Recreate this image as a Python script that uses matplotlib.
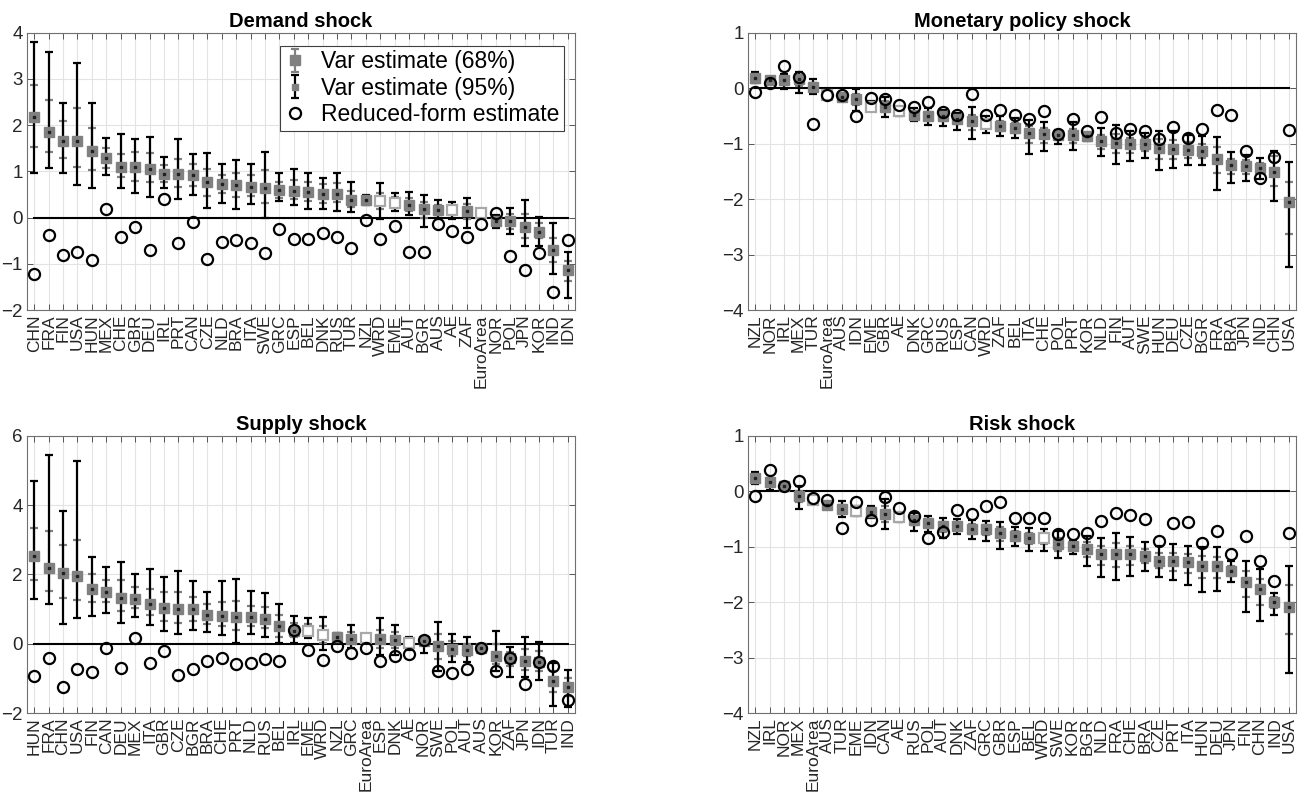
import numpy as np
import matplotlib
matplotlib.use("Agg")
import matplotlib.pyplot as plt

plt.rcParams['font.family'] = ['Liberation Sans', 'DejaVu Sans']

# ---------------- Demand shock ----------------
demand_countries = ["CHN","FRA","FIN","USA","HUN","MEX","CHE","GBR","DEU","IRL","PRT","CAN","CZE","NLD","BRA","ITA","SWE","GRC","ESP","BEL","DNK","RUS","TUR","NZL","WRD","EME","AUT","BGR","AUS","AE","ZAF","EuroArea","NOR","POL","JPN","KOR","IND","IDN"]
demand_est = [2.17,1.86,1.65,1.65,1.45,1.29,1.10,1.10,1.06,0.95,0.95,0.92,0.76,0.72,0.71,0.67,0.65,0.59,0.58,0.55,0.52,0.52,0.38,0.38,0.36,0.31,0.27,0.18,0.17,0.17,0.14,0.11,-0.07,-0.07,-0.20,-0.31,-0.70,-1.13]
demand_hi95 = [3.79,3.59,2.49,3.34,2.48,1.73,1.80,1.71,1.75,1.31,1.70,1.37,1.39,1.16,1.24,1.16,1.41,0.96,1.06,0.97,0.86,0.97,0.76,0.48,0.74,0.54,0.56,0.48,0.38,0.34,0.43,0.18,0.05,0.20,0.38,0.02,-0.11,-0.74]
demand_lo95 = [0.96,1.08,0.97,0.70,0.64,0.92,0.65,0.53,0.45,0.64,0.41,0.49,0.20,0.32,0.18,0.30,0.00,0.35,0.27,0.18,0.18,0.15,0.12,0.27,-0.02,0.14,0.05,-0.20,0.00,-0.04,-0.22,0.04,-0.22,-0.36,-0.61,-0.61,-1.23,-1.75]
demand_hi68 = [2.87,2.55,2.09,2.38,1.93,1.50,1.37,1.42,1.40,1.14,1.26,1.16,1.05,0.92,0.97,0.92,1.03,0.77,0.82,0.77,0.72,0.74,0.58,0.43,0.54,0.45,0.42,0.34,0.27,0.25,0.29,0.15,0.00,0.07,0.07,-0.12,-0.45,-0.94]
demand_lo68 = [1.52,1.41,1.29,1.10,1.03,1.08,0.87,0.79,0.76,0.77,0.67,0.69,0.47,0.53,0.45,0.47,0.31,0.43,0.40,0.36,0.31,0.34,0.24,0.32,0.18,0.22,0.14,0.00,0.07,0.06,-0.04,0.07,-0.16,-0.24,-0.45,-0.45,-0.96,-1.37]
demand_rf = [-1.23,-0.38,-0.82,-0.74,-0.92,0.18,-0.43,-0.20,-0.71,0.40,-0.56,-0.09,-0.89,-0.52,-0.48,-0.56,-0.77,-0.25,-0.47,-0.46,-0.33,-0.42,-0.65,-0.06,-0.47,-0.18,-0.74,-0.74,-0.14,-0.29,-0.41,-0.13,0.11,-0.83,-1.13,-0.77,-1.60,-0.48]

# ---------------- Monetary policy shock ----------------
monetary_countries = ["NZL","NOR","IRL","MEX","TUR","EuroArea","AUS","IDN","EME","GBR","AE","DNK","GRC","RUS","ESP","CAN","WRD","ZAF","BEL","ITA","CHE","POL","PRT","KOR","NLD","FIN","AUT","SWE","HUN","DEU","CZE","BGR","FRA","BRA","JPN","IND","CHN","USA"]
monetary_est = [0.19,0.14,0.14,0.16,0.02,-0.13,-0.16,-0.20,-0.33,-0.33,-0.42,-0.48,-0.51,-0.51,-0.55,-0.60,-0.64,-0.69,-0.72,-0.81,-0.83,-0.84,-0.85,-0.87,-0.95,-0.98,-1.01,-1.01,-1.07,-1.10,-1.11,-1.13,-1.28,-1.39,-1.41,-1.43,-1.52,-2.06]
monetary_hi95 = [0.29,0.17,0.25,0.29,0.17,-0.10,-0.10,-0.01,-0.23,-0.16,-0.36,-0.36,-0.36,-0.40,-0.45,-0.34,-0.51,-0.51,-0.54,-0.57,-0.61,-0.75,-0.61,-0.80,-0.72,-0.66,-0.77,-0.80,-0.77,-0.77,-0.84,-0.87,-0.88,-1.15,-1.20,-1.25,-1.14,-1.33]
monetary_lo95 = [0.10,0.09,-0.01,-0.08,-0.10,-0.17,-0.22,-0.42,-0.40,-0.52,-0.51,-0.60,-0.67,-0.69,-0.75,-0.92,-0.81,-0.86,-0.90,-1.18,-1.13,-1.01,-1.12,-0.96,-1.23,-1.36,-1.32,-1.25,-1.47,-1.44,-1.39,-1.39,-1.83,-1.71,-1.68,-1.64,-2.03,-3.22]
monetary_hi68 = [0.24,0.16,0.20,0.22,0.10,-0.11,-0.13,-0.11,-0.28,-0.23,-0.39,-0.42,-0.43,-0.45,-0.50,-0.48,-0.57,-0.60,-0.63,-0.69,-0.72,-0.80,-0.73,-0.83,-0.84,-0.82,-0.89,-0.90,-0.92,-0.93,-0.97,-1.00,-1.06,-1.27,-1.30,-1.34,-1.23,-1.69]
monetary_lo68 = [0.14,0.11,0.05,0.04,-0.04,-0.15,-0.19,-0.31,-0.37,-0.42,-0.47,-0.54,-0.58,-0.60,-0.65,-0.75,-0.72,-0.78,-0.81,-0.99,-0.98,-0.93,-0.98,-0.92,-1.09,-1.17,-1.16,-1.13,-1.27,-1.27,-1.25,-1.26,-1.53,-1.55,-1.54,-1.53,-1.77,-2.63]
monetary_rf = [-0.06,0.10,0.40,0.20,-0.64,-0.13,-0.13,-0.51,-0.17,-0.19,-0.30,-0.34,-0.25,-0.43,-0.48,-0.10,-0.48,-0.40,-0.48,-0.55,-0.42,-0.83,-0.55,-0.78,-0.52,-0.81,-0.73,-0.77,-0.92,-0.70,-0.89,-0.73,-0.39,-0.49,-1.14,-1.62,-1.24,-0.75]

# ---------------- Supply shock ----------------
supply_countries = ["HUN","FRA","CHN","USA","FIN","CAN","DEU","MEX","ITA","GBR","CZE","BGR","BRA","CHE","PRT","NLD","RUS","BEL","IRL","EME","WRD","NZL","GRC","EuroArea","ESP","DNK","AE","NOR","SWE","POL","AUT","AUS","KOR","ZAF","JPN","IDN","TUR","IND"]
supply_est = [2.53,2.19,2.04,1.94,1.59,1.48,1.33,1.30,1.16,1.04,0.99,0.99,0.82,0.80,0.76,0.76,0.71,0.51,0.37,0.36,0.26,0.18,0.15,0.17,0.13,0.11,0.01,0.09,-0.07,-0.16,-0.18,-0.13,-0.35,-0.42,-0.49,-0.52,-1.07,-1.25]
supply_hi95 = [4.70,5.44,3.84,5.28,2.50,2.21,2.36,2.00,2.16,1.93,2.09,1.80,1.48,1.81,1.88,1.51,1.45,1.14,0.80,0.73,0.77,0.32,0.54,0.28,0.73,0.54,0.20,0.15,0.63,0.28,0.18,-0.07,0.36,-0.09,0.18,0.04,-0.57,-0.76]
supply_lo95 = [1.28,1.14,0.57,0.73,0.80,0.89,0.60,0.78,0.54,0.37,0.27,0.41,0.33,0.25,0.03,0.28,0.20,0.03,0.03,0.16,-0.19,0.09,-0.13,0.06,-0.33,-0.33,-0.18,-0.26,-0.80,-0.52,-0.54,-0.23,-0.80,-0.97,-0.97,-1.04,-1.79,-1.83]
supply_hi68 = [3.34,3.25,2.86,3.00,2.00,1.83,1.83,1.64,1.59,1.48,1.48,1.35,1.14,1.21,1.24,1.08,1.06,0.82,0.60,0.57,0.51,0.25,0.34,0.23,0.39,0.34,0.11,0.12,0.28,0.09,0.00,-0.10,0.00,-0.25,-0.15,-0.22,-0.80,-1.00]
supply_lo68 = [1.83,1.52,1.32,1.25,1.21,1.21,0.95,1.03,0.82,0.66,0.61,0.66,0.57,0.51,0.41,0.51,0.44,0.18,0.20,0.25,0.03,0.13,0.01,0.11,-0.11,-0.13,-0.09,0.00,-0.44,-0.35,-0.36,-0.18,-0.58,-0.65,-0.75,-0.78,-1.40,-1.52]
supply_rf = [-0.92,-0.40,-1.24,-0.74,-0.82,-0.11,-0.71,0.17,-0.57,-0.20,-0.90,-0.74,-0.50,-0.42,-0.59,-0.55,-0.45,-0.49,0.39,-0.18,-0.48,-0.07,-0.28,-0.13,-0.49,-0.35,-0.30,0.12,-0.80,-0.85,-0.74,-0.13,-0.80,-0.42,-1.16,-0.52,-0.63,-1.62]

# ---------------- Risk shock ----------------
risk_countries = ["NZL","IRL","NOR","MEX","EuroArea","AUS","TUR","EME","IDN","CAN","AE","RUS","POL","AUT","DNK","ZAF","GRC","GBR","ESP","BEL","WRD","SWE","KOR","BGR","NLD","FRA","CHE","BRA","CZE","PRT","ITA","HUN","DEU","JPN","FIN","CHN","IND","USA"]
risk_est = [0.23,0.16,0.10,-0.09,-0.15,-0.25,-0.32,-0.35,-0.37,-0.41,-0.47,-0.51,-0.57,-0.62,-0.62,-0.69,-0.69,-0.75,-0.80,-0.84,-0.84,-0.96,-0.99,-1.05,-1.13,-1.13,-1.13,-1.17,-1.25,-1.26,-1.28,-1.34,-1.35,-1.43,-1.63,-1.77,-1.99,-2.08]
risk_hi95 = [0.34,0.24,0.14,0.10,-0.11,-0.19,-0.17,-0.26,-0.26,-0.14,-0.40,-0.40,-0.44,-0.48,-0.50,-0.51,-0.54,-0.56,-0.65,-0.66,-0.69,-0.72,-0.90,-0.80,-0.84,-0.75,-0.83,-0.92,-0.99,-0.96,-0.99,-1.01,-1.01,-1.26,-1.25,-1.40,-1.83,-1.34]
risk_lo95 = [0.13,0.02,0.06,-0.32,-0.20,-0.30,-0.46,-0.44,-0.48,-0.69,-0.56,-0.71,-0.74,-0.84,-0.77,-0.87,-0.90,-1.04,-0.99,-1.08,-1.07,-1.20,-1.14,-1.34,-1.54,-1.60,-1.53,-1.43,-1.54,-1.60,-1.69,-1.81,-1.80,-1.63,-2.17,-2.34,-2.23,-3.28]
risk_hi68 = [0.28,0.20,0.12,0.01,-0.13,-0.22,-0.24,-0.30,-0.31,-0.27,-0.43,-0.45,-0.50,-0.55,-0.56,-0.60,-0.61,-0.65,-0.72,-0.75,-0.76,-0.84,-0.94,-0.92,-0.98,-0.94,-0.98,-1.04,-1.12,-1.11,-1.13,-1.17,-1.18,-1.34,-1.44,-1.58,-1.91,-1.69]
risk_lo68 = [0.18,0.09,0.08,-0.20,-0.17,-0.27,-0.39,-0.40,-0.42,-0.55,-0.51,-0.61,-0.65,-0.73,-0.69,-0.78,-0.79,-0.89,-0.89,-0.96,-0.95,-1.08,-1.06,-1.19,-1.33,-1.36,-1.33,-1.30,-1.39,-1.43,-1.48,-1.57,-1.57,-1.53,-1.90,-2.05,-2.10,-2.58]
risk_rf = [-0.08,0.39,0.10,0.19,-0.13,-0.15,-0.66,-0.19,-0.51,-0.10,-0.30,-0.44,-0.84,-0.74,-0.34,-0.41,-0.26,-0.20,-0.48,-0.48,-0.48,-0.78,-0.78,-0.75,-0.53,-0.40,-0.43,-0.50,-0.90,-0.57,-0.56,-0.93,-0.72,-1.14,-0.81,-1.26,-1.62,-0.75]

aggregates = ["WRD", "EME", "AE", "EuroArea"]

GRAY = '#808080'
AXC = '#404040'


def draw_panel(ax, title, countries, est, lo95, hi95, lo68, hi68, rf, ylim, yticks, legend=False):
    n = len(countries)
    x = np.arange(1, n + 1)
    est = np.asarray(est); lo95 = np.asarray(lo95); hi95 = np.asarray(hi95)
    lo68 = np.asarray(lo68); hi68 = np.asarray(hi68); rf = np.asarray(rf)
    agg = np.array([c in aggregates for c in countries])

    ax.plot([1, n], [0, 0], color='black', lw=1.5, zorder=2)
    ax.errorbar(x, est, yerr=[est - lo68, hi68 - est], fmt='none', ecolor=GRAY,
                elinewidth=1.6, capsize=3, capthick=1.6, zorder=3)
    ax.errorbar(x, est, yerr=[est - lo95, hi95 - est], fmt='none', ecolor='black',
                elinewidth=1.6, capsize=3, capthick=1.6, zorder=4)
    ax.plot(x[~agg], est[~agg], 's', ms=7, mfc=GRAY, mec=GRAY, zorder=5)
    ax.plot(x[agg], est[agg], 's', ms=6.5, mfc='white', mec='#a8a8a8', mew=1.6, zorder=5)
    ax.plot(x[~agg], est[~agg], 's', ms=2, mfc='#202020', mec='#202020', zorder=6)
    ax.plot(x, rf, 'o', ms=8, mfc='none', mec='black', mew=1.6, zorder=7)

    ax.set_xlim(0.5, n + 0.5)
    ax.set_ylim(*ylim)
    ax.set_yticks(yticks)
    ax.set_xticks(x)
    ax.set_xticklabels(countries, rotation=90, fontsize=12.5, color='#262626')
    ax.tick_params(axis='y', labelsize=13.5, colors='#262626')
    ax.tick_params(direction='in', top=True, right=True, length=4, width=0.6, color=AXC, pad=3)
    ax.grid(True, color='#e3e3e3', lw=0.8)
    ax.set_axisbelow(True)
    for s in ax.spines.values():
        s.set_color('#707070')
        s.set_linewidth(0.8)
    ax.set_title(title, fontsize=14.5, fontweight='bold', pad=4)

    if legend:
        h68 = ax.errorbar([np.nan], [np.nan], yerr=[[0.1], [0.1]], fmt='s', color=GRAY, ms=7,
                          mfc=GRAY, mec=GRAY, elinewidth=1.6, capsize=3, capthick=1.6)
        h95 = ax.errorbar([np.nan], [np.nan], yerr=[[0.1], [0.1]], fmt='s', color='black', ms=5,
                          mfc=GRAY, mec=GRAY, elinewidth=1.6, capsize=3, capthick=1.6)
        hrf, = ax.plot([np.nan], [np.nan], 'o', ms=8, mfc='none', mec='black', mew=1.6)
        leg = ax.legend([h68, h95, hrf],
                        ['Var estimate (68%)', 'Var estimate (95%)', 'Reduced-form estimate'],
                        loc='upper right', bbox_to_anchor=(0.988, 0.97), fontsize=16.5,
                        frameon=True, fancybox=False, framealpha=1, edgecolor='#404040',
                        handlelength=0.9, handletextpad=0.7, borderpad=0.2, labelspacing=0.15,
                        borderaxespad=0.2)
        leg.get_frame().set_linewidth(0.8)


fig = plt.figure(figsize=(13.11, 7.99), dpi=100)
w, h = 0.418, 0.347
ax1 = fig.add_axes([0.0206, 0.612, w, h])
ax2 = fig.add_axes([0.5706, 0.612, w, h])
ax3 = fig.add_axes([0.0206, 0.1076, w, h])
ax4 = fig.add_axes([0.5706, 0.1076, w, h])

draw_panel(ax1, 'Demand shock', demand_countries, demand_est, demand_lo95, demand_hi95,
           demand_lo68, demand_hi68, demand_rf, (-2, 4), [-2, -1, 0, 1, 2, 3, 4], legend=True)
draw_panel(ax2, 'Monetary policy shock', monetary_countries, monetary_est, monetary_lo95, monetary_hi95,
           monetary_lo68, monetary_hi68, monetary_rf, (-4, 1), [-4, -3, -2, -1, 0, 1])
draw_panel(ax3, 'Supply shock', supply_countries, supply_est, supply_lo95, supply_hi95,
           supply_lo68, supply_hi68, supply_rf, (-2, 6), [-2, 0, 2, 4, 6])
draw_panel(ax4, 'Risk shock', risk_countries, risk_est, risk_lo95, risk_hi95,
           risk_lo68, risk_hi68, risk_rf, (-4, 1), [-4, -3, -2, -1, 0, 1])

fig.savefig('out.png', dpi=100)
